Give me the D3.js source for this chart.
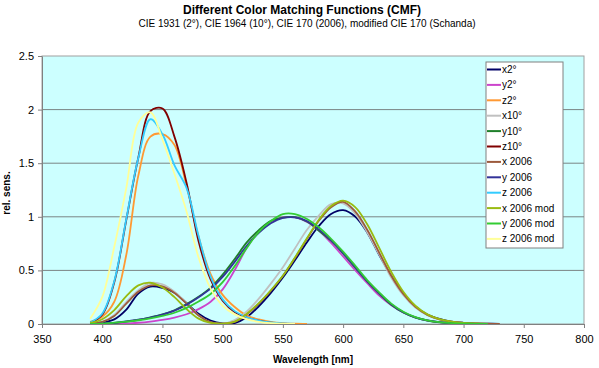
<!DOCTYPE html>
<html>
<head>
<meta charset="utf-8">
<script src="https://cdn.jsdelivr.net/npm/d3@7"></script>
<style>
  body { margin: 0; background: #fff; }
  text { font-family: "Liberation Sans", Arial, sans-serif; fill: #000; }
</style>
</head>
<body>
<script>
// wavelengths, 10 nm steps
let wl = [390, 400, 410, 420, 430, 440, 450, 460, 470, 480, 490, 500, 510, 520, 530, 540, 550,
  560, 570, 580, 590, 600, 610, 620, 630, 640, 650, 660, 670, 680, 690, 700, 710, 720, 730]

// CIE 1931 (2°)
let x2 = [0.0042, 0.0143, 0.0435, 0.1344, 0.2839, 0.3483, 0.3362, 0.2908, 0.1954, 0.0956, 0.0320, 0.0049,
  0.0093, 0.0633, 0.1655, 0.2904, 0.4334, 0.5945, 0.7621, 0.9163, 1.0263, 1.0622, 1.0026, 0.8544, 0.6424,
  0.4479, 0.2835, 0.1649, 0.0874, 0.0468, 0.0227, 0.0114, 0.0058, 0.0029, 0.0014]
let y2 = [0.0001, 0.0004, 0.0012, 0.0040, 0.0116, 0.0230, 0.0380, 0.0600, 0.0910, 0.1390, 0.2080, 0.3230,
  0.5030, 0.7100, 0.8620, 0.9540, 0.9950, 0.9950, 0.9520, 0.8700, 0.7570, 0.6310, 0.5030, 0.3810, 0.2650,
  0.1750, 0.1070, 0.0610, 0.0320, 0.0170, 0.0082, 0.0041, 0.0021, 0.0010]
let z2 = [0.0201, 0.0679, 0.2074, 0.6456, 1.3856, 1.7471, 1.7721, 1.6692, 1.2876, 0.8130, 0.4652, 0.2720,
  0.1582, 0.0782, 0.0422, 0.0203, 0.0087, 0.0039, 0.0021]

// CIE 1964 (10°)
let x10 = [0.0024, 0.0191, 0.0847, 0.2045, 0.3147, 0.3837, 0.3707, 0.3023, 0.1956, 0.0805, 0.0162, 0.0038,
  0.0375, 0.1177, 0.2365, 0.3768, 0.5298, 0.7052, 0.8787, 1.0142, 1.1185, 1.1240, 1.0305, 0.8563, 0.6475,
  0.4316, 0.2683, 0.1526, 0.0813, 0.0409, 0.0199, 0.0096, 0.0046, 0.0022, 0.0010]
let y10 = [0.0003, 0.0020, 0.0088, 0.0214, 0.0387, 0.0621, 0.0895, 0.1282, 0.1852, 0.2536, 0.3391, 0.4608,
  0.6067, 0.7618, 0.8752, 0.9620, 0.9918, 0.9973, 0.9555, 0.8689, 0.7774, 0.6583, 0.5280, 0.3981, 0.2835,
  0.1798, 0.1076, 0.0603, 0.0318, 0.0159, 0.0077, 0.0037, 0.0018, 0.0008]
let z10 = [0.0105, 0.0860, 0.3894, 0.9725, 1.5535, 1.985, 2.010, 1.7454, 1.3176, 0.7721, 0.4153, 0.2185,
  0.1120, 0.0607, 0.0305, 0.0137, 0.0040, 0.0000]

// CIE 170 (2006)
let x06 = [0.003, 0.020, 0.075, 0.190, 0.300, 0.360, 0.350, 0.290, 0.190, 0.080, 0.018, 0.003,
  0.020, 0.090, 0.190, 0.310, 0.450, 0.615, 0.795, 0.965, 1.090, 1.140, 1.050, 0.880, 0.665,
  0.450, 0.280, 0.160, 0.085, 0.043, 0.021, 0.010, 0.005, 0.0025, 0.001]
let y06 = [0.0004, 0.0025, 0.011, 0.024, 0.040, 0.060, 0.088, 0.125, 0.180, 0.250, 0.330, 0.440,
  0.580, 0.730, 0.850, 0.940, 0.990, 0.995, 0.960, 0.880, 0.780, 0.660, 0.530, 0.400, 0.285,
  0.185, 0.110, 0.062, 0.033, 0.017, 0.008, 0.004, 0.002, 0.001]
let z06 = [0.014, 0.095, 0.400, 0.980, 1.550, 1.910, 1.770, 1.480, 1.270, 0.820, 0.440, 0.230,
  0.120, 0.063, 0.032, 0.015, 0.006, 0.002]

// modified CIE 170 (Schanda)
let x06m = [0.010, 0.045, 0.130, 0.260, 0.360, 0.385, 0.340, 0.250, 0.140, 0.050, 0.010, 0.003,
  0.022, 0.095, 0.195, 0.315, 0.450, 0.620, 0.800, 0.975, 1.100, 1.150, 1.090, 0.930, 0.710,
  0.485, 0.300, 0.170, 0.090, 0.046, 0.022, 0.010, 0.005, 0.002]
let y06m = [0.001, 0.004, 0.012, 0.022, 0.035, 0.052, 0.075, 0.105, 0.150, 0.210, 0.280, 0.390,
  0.540, 0.710, 0.860, 0.960, 1.025, 1.025, 0.980, 0.900, 0.795, 0.675, 0.545, 0.410, 0.295,
  0.190, 0.115, 0.065, 0.034, 0.017, 0.008, 0.004, 0.002, 0.001]
let z06m = [0.050, 0.250, 0.720, 1.270, 1.880, 1.975, 1.720, 1.400, 1.050, 0.620, 0.330, 0.170,
  0.090, 0.045, 0.020, 0.008, 0.003, 0.000]

let names = ['x2°', 'y2°', 'z2°', 'x10°', 'y10°', 'z10°', 'x 2006', 'y 2006', 'z 2006',
  'x 2006 mod', 'y 2006 mod', 'z 2006 mod']
let values = [x2, y2, z2, x10, y10, z10, x06, y06, z06, x06m, y06m, z06m]
let colors = ['#000066', '#cc44cc', '#ff9933', '#c0c0c0', '#1f7f2a', '#800000', '#9c5a3c', '#333399',
  '#33ccff', '#99bb11', '#33cc33', '#ffff99']

let xTicks = [350, 400, 450, 500, 550, 600, 650, 700, 750, 800]
let yTicks = [0, 0.5, 1, 1.5, 2, 2.5]

let width = 599, height = 368
let plotL = 42, plotR = 584, plotT = 56, plotB = 324

let svg = d3.select('body')
    .append('svg')
    .attr('width', width)
    .attr('height', height)

let x = d3.scaleLinear().domain([350, 800]).range([plotL, plotR])
let y = d3.scaleLinear().domain([0, 2.5]).range([plotB, plotT])

// plot area
svg.append('rect')
    .attr('x', plotL)
    .attr('y', plotT)
    .attr('width', plotR - plotL)
    .attr('height', plotB - plotT)
    .style('fill', '#ccffff')
    .style('stroke', '#a0a0a0')

// gridlines
svg.append('g')
    .selectAll('line')
    .data(yTicks.filter(d => d > 0 && d < 2.5))
    .join('line')
    .attr('x1', plotL)
    .attr('x2', plotR)
    .attr('y1', d => y(d))
    .attr('y2', d => y(d))
    .style('stroke', '#7a8585')
    .style('stroke-width', 1)

// curves
let line = d3.line()
    .x(d => x(d[0]))
    .y(d => y(d[1]))
    .curve(d3.curveCatmullRom)

svg.append('g')
    .selectAll('path')
    .data(values)
    .join('path')
    .attr('d', v => line(v.map((d, i) => [wl[i], d])))
    .style('fill', 'none')
    .style('stroke', (v, i) => colors[i])
    .style('stroke-width', 1.8)

// axes
let xAxis = svg.append('g')
    .attr('transform', `translate(0,${plotB})`)
    .call(d3.axisBottom(x).tickValues(xTicks).tickSize(4).tickPadding(7).tickSizeOuter(0))
let yAxis = svg.append('g')
    .attr('transform', `translate(${plotL},0)`)
    .call(d3.axisLeft(y).tickValues(yTicks).tickSize(4).tickPadding(4).tickSizeOuter(0).tickFormat(d3.format('')))

for (let ax of [xAxis, yAxis]) {
    ax.select('.domain').style('stroke', '#808080')
    ax.selectAll('.tick line').style('stroke', '#808080')
    ax.selectAll('.tick text')
        .style('font-family', '"Liberation Sans", Arial, sans-serif')
        .style('font-size', '11px')
        .style('fill', '#000')
}

// titles
svg.append('text')
    .attr('x', 302)
    .attr('y', 14)
    .attr('text-anchor', 'middle')
    .style('font-size', '12px')
    .style('font-weight', 'bold')
    .text('Different Color Matching Functions (CMF)')

svg.append('text')
    .attr('x', 307)
    .attr('y', 27)
    .attr('text-anchor', 'middle')
    .style('font-size', '10px')
    .text('CIE 1931 (2°), CIE 1964 (10°), CIE 170 (2006), modified CIE 170 (Schanda)')

svg.append('text')
    .attr('x', 313)
    .attr('y', 363)
    .attr('text-anchor', 'middle')
    .style('font-size', '10px')
    .style('font-weight', 'bold')
    .text('Wavelength [nm]')

svg.append('text')
    .attr('transform', 'translate(10,193) rotate(-90)')
    .attr('text-anchor', 'middle')
    .style('font-size', '10px')
    .style('font-weight', 'bold')
    .text('rel. sens.')

// legend
let legend = svg.append('g')
legend.append('rect')
    .attr('x', 486)
    .attr('y', 62)
    .attr('width', 77)
    .attr('height', 186)
    .style('fill', '#fff')
    .style('stroke', '#808080')

let item = legend.selectAll('g.item')
    .data(names)
    .join('g')
    .attr('class', 'item')
    .attr('transform', (d, i) => `translate(0,${69.5 + i * 15.4})`)

item.append('line')
    .attr('x1', 487)
    .attr('x2', 501)
    .style('stroke', (d, i) => colors[i])
    .style('stroke-width', 2)

item.append('text')
    .attr('x', 502)
    .attr('y', 3.5)
    .style('font-size', '10px')
    .text(d => d)
</script>
</body>
</html>
